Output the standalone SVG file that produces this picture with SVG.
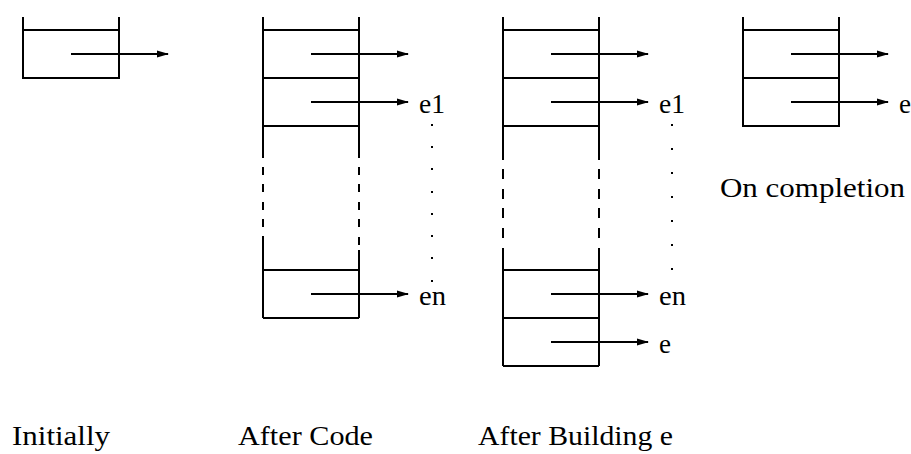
<svg xmlns="http://www.w3.org/2000/svg" width="911" height="454" viewBox="0 0 911 454">
<style>
.ln{stroke:#000;stroke-width:2;fill:none;stroke-linecap:butt}
.ar{stroke:#000;stroke-width:2;fill:none}
.hd{fill:#000;stroke:none}
.dt{fill:#000}
</style>
<defs>
<marker id="ah" markerWidth="12" markerHeight="8" refX="11" refY="4" orient="auto" markerUnits="userSpaceOnUse">
<path d="M0,0.5 L12,4 L0,7.5 Z" class="hd"/>
</marker>
</defs>
<rect width="911" height="454" fill="#fff"/>

<g id="node-initially">
<path class="ln" d="M23,17 V78 H119 V17 M23,30 H119"/>
</g>

<g id="node-after-code">
<path class="ln" d="M263,17 V158 M263,167 V175 M263,184 V192 M263,202 V210 M263,219 V227 M263,236 V318"/>
<path class="ln" d="M359,17 V158 M359,167 V175 M359,184 V192 M359,202 V210 M359,219 V227 M359,237 V245 M359,250 V318"/>
<path class="ln" d="M263,30 H359 M263,78 H359 M263,126 H359 M263,270 H359 M263,318 H359"/>
</g>

<g id="node-after-building">
<path class="ln" d="M503,17 V160 M503,169 V179 M503,189 V199 M503,208 V218 M503,228 V238 M503,248 V366"/>
<path class="ln" d="M599,17 V160 M599,169 V179 M599,189 V199 M599,208 V218 M599,228 V238 M599,248 V366"/>
<path class="ln" d="M503,30 H599 M503,78 H599 M503,126 H599 M503,270 H599 M503,318 H599 M503,366 H599"/>
</g>

<g id="node-on-completion">
<path class="ln" d="M743,17 V126 H839 V17 M743,30 H839 M743,78 H839"/>
</g>

<g id="connectors">
<line class="ar" x1="71" y1="54" x2="168" y2="54" marker-end="url(#ah)"/>
<line class="ar" x1="311" y1="54" x2="408" y2="54" marker-end="url(#ah)"/>
<line class="ar" x1="311" y1="102" x2="408" y2="102" marker-end="url(#ah)"/>
<line class="ar" x1="311" y1="294" x2="408" y2="294" marker-end="url(#ah)"/>
<line class="ar" x1="551" y1="54" x2="648" y2="54" marker-end="url(#ah)"/>
<line class="ar" x1="551" y1="102" x2="648" y2="102" marker-end="url(#ah)"/>
<line class="ar" x1="551" y1="294" x2="648" y2="294" marker-end="url(#ah)"/>
<line class="ar" x1="551" y1="342" x2="648" y2="342" marker-end="url(#ah)"/>
<line class="ar" x1="791" y1="54" x2="888" y2="54" marker-end="url(#ah)"/>
<line class="ar" x1="791" y1="102" x2="888" y2="102" marker-end="url(#ah)"/>
</g>

<g id="dots">
<rect class="dt" x="431" y="124" width="2" height="2"/>
<rect class="dt" x="431" y="146" width="2" height="2"/>
<rect class="dt" x="431" y="168" width="2" height="2"/>
<rect class="dt" x="431" y="191" width="2" height="2"/>
<rect class="dt" x="431" y="213" width="2" height="2"/>
<rect class="dt" x="431" y="235" width="2" height="2"/>
<rect class="dt" x="431" y="257" width="2" height="2"/>
<rect class="dt" x="431" y="280" width="2" height="2"/>
<rect class="dt" x="671" y="124" width="2" height="2"/>
<rect class="dt" x="671" y="148" width="2" height="2"/>
<rect class="dt" x="671" y="172" width="2" height="2"/>
<rect class="dt" x="671" y="196" width="2" height="2"/>
<rect class="dt" x="671" y="220" width="2" height="2"/>
<rect class="dt" x="671" y="244" width="2" height="2"/>
<rect class="dt" x="671" y="268" width="2" height="2"/>
</g>

<g id="labels" font-family="'Liberation Serif', 'Times New Roman', serif" font-size="27" fill="#000">
<text x="419" y="113" textLength="26" lengthAdjust="spacingAndGlyphs">e1</text>
<text x="419" y="305" textLength="27" lengthAdjust="spacingAndGlyphs">en</text>
<text x="659" y="113" textLength="26" lengthAdjust="spacingAndGlyphs">e1</text>
<text x="659" y="305" textLength="27" lengthAdjust="spacingAndGlyphs">en</text>
<text x="659" y="353" textLength="12" lengthAdjust="spacingAndGlyphs">e</text>
<text x="899" y="113" textLength="12" lengthAdjust="spacingAndGlyphs">e</text>
<text x="720" y="197" textLength="185" lengthAdjust="spacingAndGlyphs">On completion</text>
<text x="12" y="445" textLength="98" lengthAdjust="spacingAndGlyphs">Initially</text>
<text x="238" y="445" textLength="135" lengthAdjust="spacingAndGlyphs">After Code</text>
<text x="478" y="445" textLength="195" lengthAdjust="spacingAndGlyphs">After Building e</text>
</g>
</svg>
